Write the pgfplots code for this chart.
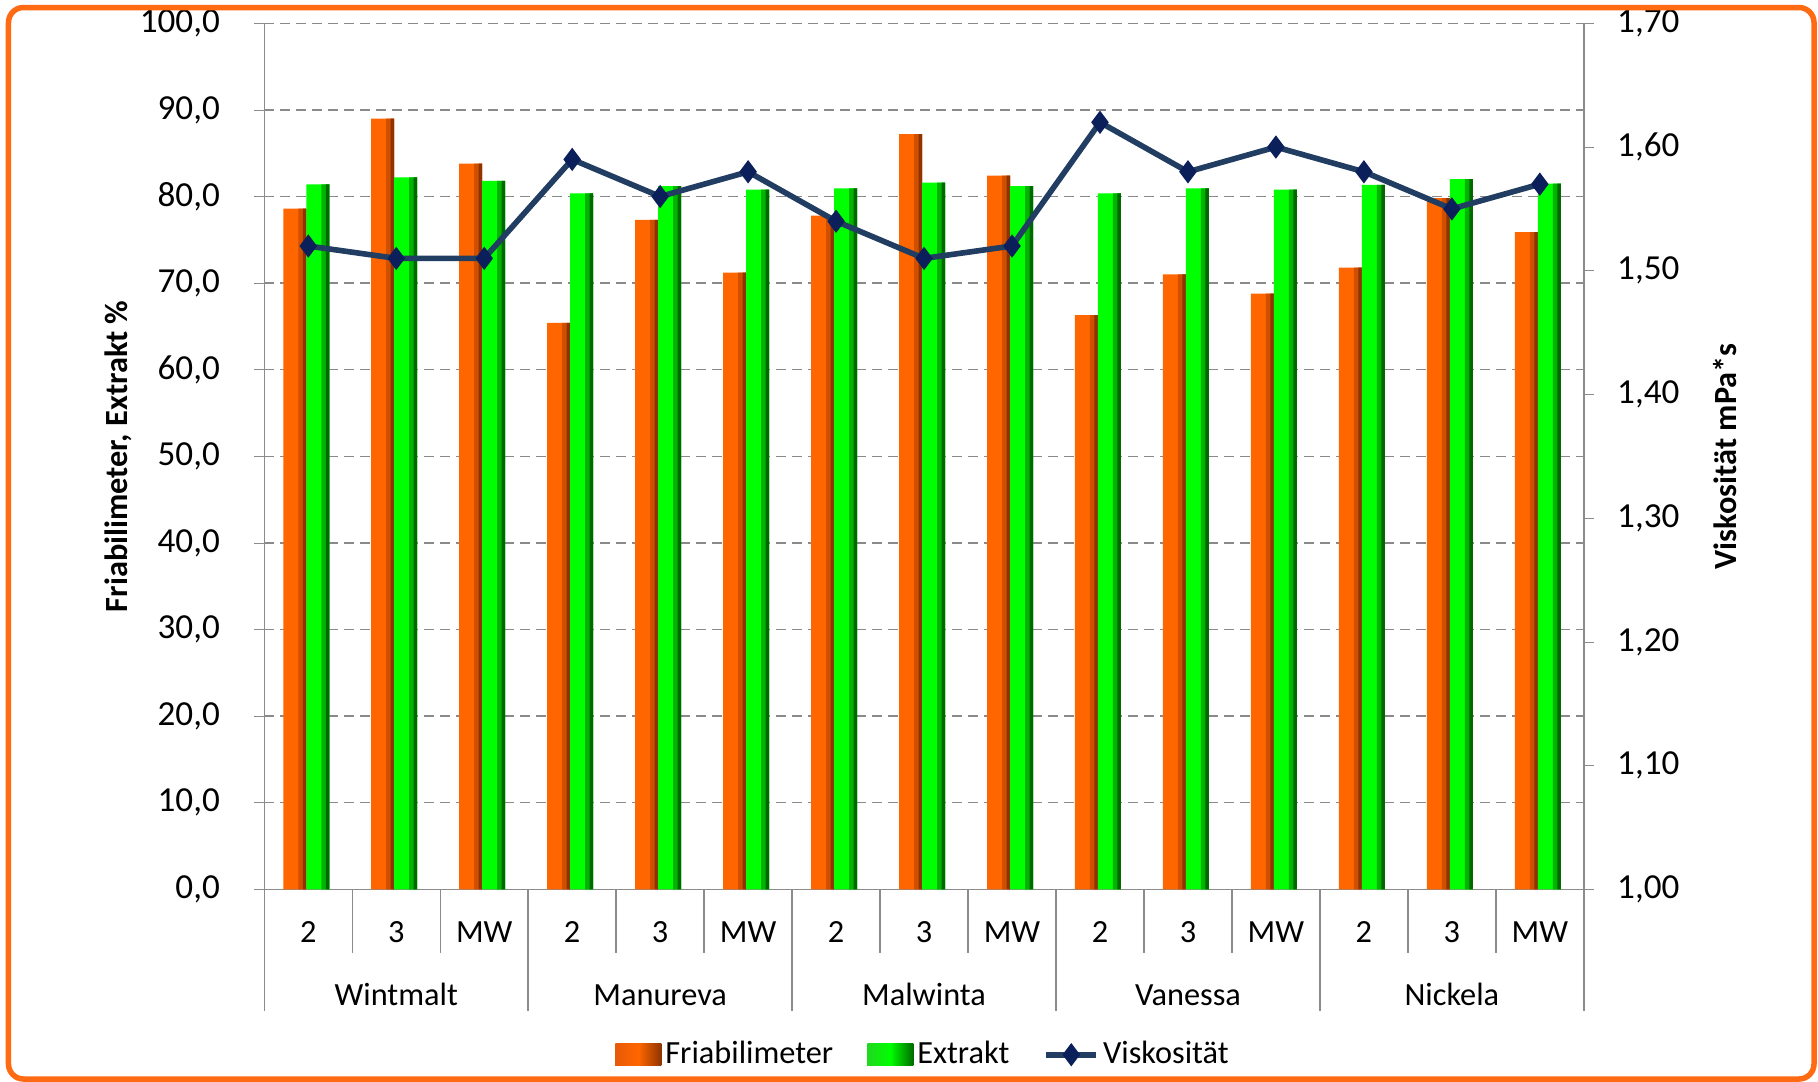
\documentclass[border=0pt]{standalone}
\usepackage{fontspec}
\setmainfont{Carlito}
\usepackage{pgfplots}
\usepackage{pgfplotstable}
\pgfplotsset{compat=1.18}

\definecolor{frameorange}{HTML}{FF6A13}
\definecolor{orL}{HTML}{E85A08}
\definecolor{orM}{HTML}{FF6600}
\definecolor{orS}{HTML}{D05000}
\definecolor{orR}{HTML}{8E3400}
\definecolor{grL}{HTML}{20D820}
\definecolor{grM}{HTML}{00FF00}
\definecolor{grS}{HTML}{00B400}
\definecolor{grR}{HTML}{006A00}
\definecolor{viskline}{HTML}{223D62}
\definecolor{viskmark}{HTML}{0B1F5A}
\definecolor{axisgray}{HTML}{8C8C8C}
\definecolor{gridgray}{HTML}{8A8A8A}

\newcommand\chartfont{\fontsize{9.2pt}{11pt}\selectfont}
\newcommand\tickfont{\fontsize{10pt}{12pt}\selectfont}

\pgfplotsset{
  orlegend/.style={legend image code/.code={%
    \path[left color=orL, right color=orR, middle color=orM] (0mm,-1.1mm) rectangle (4.6mm,1.1mm);}},
  grlegend/.style={legend image code/.code={%
    \path[left color=grL, right color=grR, middle color=grM] (0mm,-1.1mm) rectangle (4.6mm,1.1mm);}},
  linelegend/.style={legend image code/.code={%
    \draw[mark repeat=2, mark phase=2, ##1] plot coordinates {(0mm,0mm) (2.5mm,0mm) (5mm,0mm)};}},
}

% data
\pgfplotstableread{
x  fri   ext   visk
0  78.6  81.4  1.52
1  89.0  82.2  1.51
2  83.8  81.8  1.51
3  65.4  80.35 1.59
4  77.3  81.2  1.56
5  71.2  80.8  1.58
6  77.8  80.95 1.54
7  87.2  81.6  1.51
8  82.4  81.2  1.52
9  66.3  80.35 1.62
10 71.0  80.95 1.58
11 68.8  80.8  1.60
12 71.8  81.35 1.58
13 79.8  82.0  1.55
14 75.9  81.5  1.57
}\datatable

\begin{document}
\begin{tikzpicture}
\path[use as bounding box] (-26.43mm,-19.17mm) rectangle (155.37mm,88.93mm);

% bars, left axis
\begin{axis}[
  scale only axis, width=131.95mm, height=86.6mm,
  xmin=-0.5, xmax=14.5, ymin=0, ymax=100,
  axis y line*=left, axis x line*=bottom,
  axis line style={draw=axisgray, -},
  clip=false,
  tick align=outside, major tick length=1mm,
  ytick={0,10,...,100},
  ytick style={draw=axisgray},
  ymajorgrids, grid style={gridgray, dash pattern=on 1mm off 0.6mm},
  xtick={0,...,14}, xtick style={draw=none},
  xticklabels={2,{3\\[7pt]Wintmalt},MW,2,{3\\[7pt]Manureva},MW,2,{3\\[7pt]Malwinta},MW,
               2,{3\\[7pt]Vanessa},MW,2,{3\\[7pt]Nickela},MW},
  xticklabel style={font=\chartfont, align=center, anchor=north, yshift=-1mm},
  yticklabel style={font=\tickfont, xshift=-2.2mm, /pgf/number format/fixed, /pgf/number format/fixed zerofill,
    /pgf/number format/precision=1, /pgf/number format/use comma},
  ylabel={\bfseries Friabilimeter, Extrakt \%},
  ylabel style={font=\chartfont, at={(axis description cs:-0.1107,0.5)}, anchor=center},
  legend columns=3,
  legend style={at={(0.5,-0.191)}, anchor=center, draw=none, fill=none, font=\chartfont,
    nodes={inner sep=0.4mm},
    /tikz/every even column/.append style={column sep=3mm}},
  /pgf/number format/assume math mode=true,
]
% Friabilimeter: bar plus two darker strips on its right side
\addplot[ybar, bar width=2.3mm, bar shift=-1.35mm, draw=none, fill=orM, orlegend]
  table[x=x, y=fri] {\datatable};
\addplot[ybar, bar width=0.8mm, bar shift=-0.6mm, draw=none, fill=orS, forget plot]
  table[x=x, y=fri] {\datatable};
\addplot[ybar, bar width=0.35mm, bar shift=-0.375mm, draw=none, fill=orR, forget plot]
  table[x=x, y=fri] {\datatable};
% Extrakt
\addplot[ybar, bar width=2.3mm, bar shift=0.95mm, draw=none, fill=grM, grlegend]
  table[x=x, y=ext] {\datatable};
\addplot[ybar, bar width=0.8mm, bar shift=1.7mm, draw=none, fill=grS, forget plot]
  table[x=x, y=ext] {\datatable};
\addplot[ybar, bar width=0.35mm, bar shift=1.925mm, draw=none, fill=grR, forget plot]
  table[x=x, y=ext] {\datatable};
\addlegendimage{viskline, line width=1.6pt, mark=diamond*, mark size=3pt,
  mark options={fill=viskmark, draw=viskmark, line width=0.4pt}, linelegend}
\legend{Friabilimeter, Extrakt, Viskosität}
\pgfplotsinvokeforeach{0.5,1.5,3.5,4.5,6.5,7.5,9.5,10.5,12.5,13.5}{
  \draw[axisgray] (axis cs:#1,0) -- ([yshift=-6.4mm]axis cs:#1,0);}
\pgfplotsinvokeforeach{-0.5,2.5,5.5,8.5,11.5,14.5}{
  \draw[axisgray] (axis cs:#1,0) -- ([yshift=-12.2mm]axis cs:#1,0);}
\end{axis}

% viscosity, right axis
\begin{axis}[
  scale only axis, width=131.95mm, height=86.6mm,
  xmin=-0.5, xmax=14.5, ymin=1, ymax=1.7,
  axis y line*=right, axis x line=none,
  axis line style={draw=axisgray, -},
  tick align=outside, major tick length=1mm,
  ytick={1,1.1,1.2,1.3,1.4,1.5,1.6,1.7},
  ytick style={draw=axisgray},
  yticklabel style={font=\tickfont, xshift=1.1mm, /pgf/number format/fixed, /pgf/number format/fixed zerofill,
    /pgf/number format/precision=2, /pgf/number format/use comma},
  ylabel={\bfseries Viskosität mPa*s},
  ylabel style={font=\chartfont, at={(axis description cs:1.107,0.5)}, anchor=center},
  /pgf/number format/assume math mode=true,
]
\addplot[viskline, line width=1.6pt, mark=diamond*, mark size=3pt,
  mark options={fill=viskmark, draw=viskmark, line width=0.4pt}]
  table[x=x, y=visk] {\datatable};
\end{axis}

\draw[frameorange, line width=0.55mm, rounded corners=1.5mm]
  (-25.58mm,-18.97mm) rectangle (154.97mm,88.18mm);
\end{tikzpicture}
\end{document}
